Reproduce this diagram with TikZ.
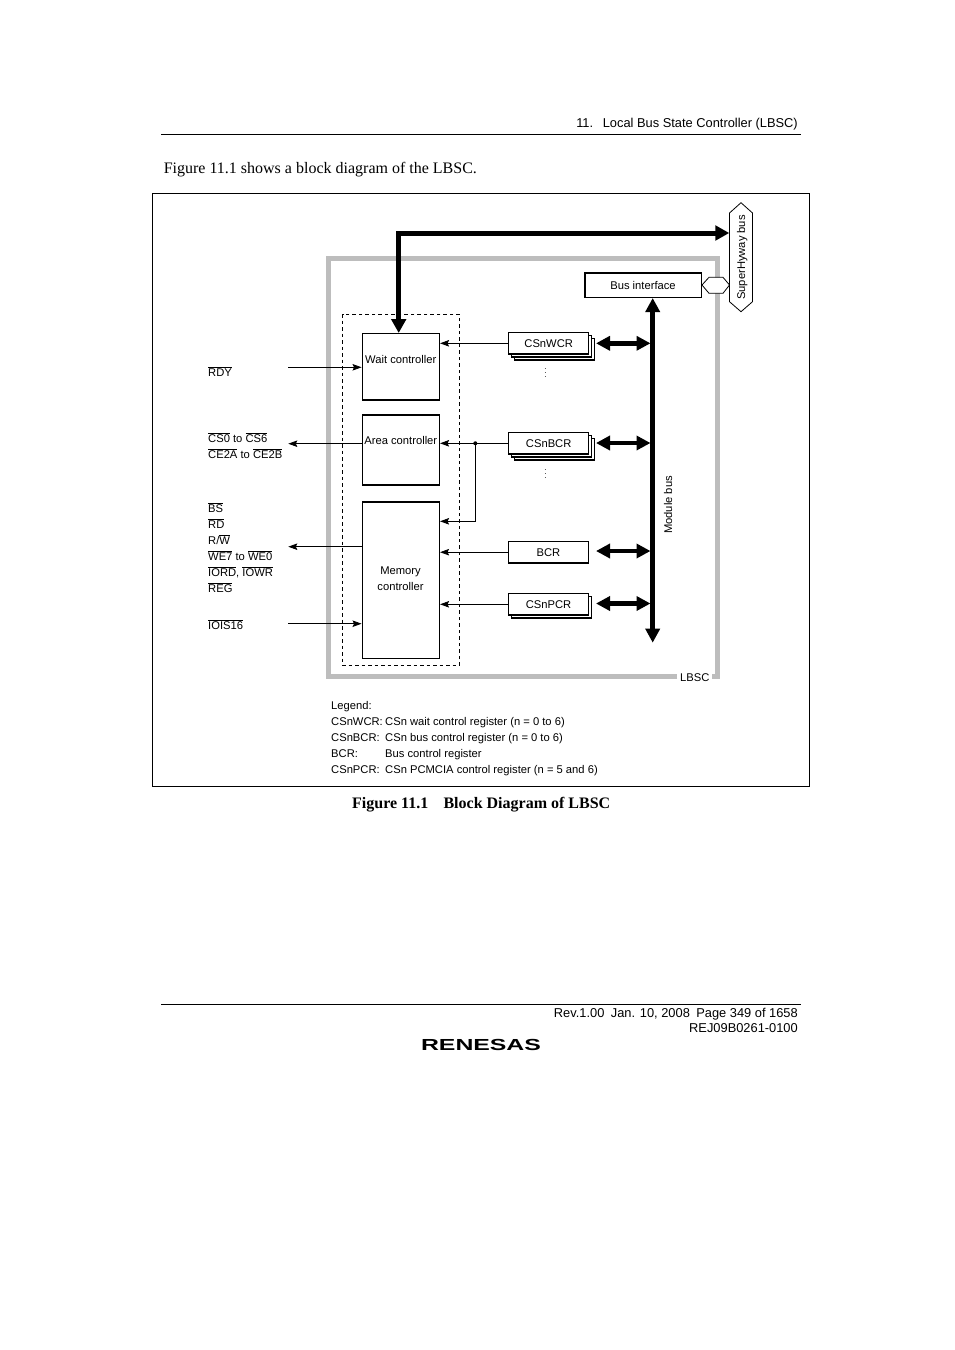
\documentclass[tikz,border=0pt]{standalone}
\usepackage{fontspec}
\setmainfont{Liberation Sans}
\newfontfamily\serifbody{Liberation Serif}
\usetikzlibrary{arrows.meta}
\newcommand{\ol}[1]{$\overline{\hbox{#1}}$}
\definecolor{lbscgray}{HTML}{BDBDBD}
\tikzset{
  txt/.style={inner sep=0pt,font=\fontsize{11.2}{13}\selectfont,text height=9pt,text depth=1pt},
  ltxt/.style={txt,anchor=west},
  rtxt/.style={txt,anchor=east},
  ctrl/.style={draw=black,line width=1.5pt,inner sep=0pt,fill=white},
  regbox/.style={draw=black,line width=1.5pt,fill=white,inner sep=0pt,minimum width=80pt,minimum height=21.5pt,font=\fontsize{11.2}{13}\selectfont},
  thin arrow/.style={line width=0.8pt,-{Stealth[length=9pt,width=6.5pt,inset=1.5pt]}},
  bus arrow/.style={line width=4.6pt,{Triangle[length=14pt,width=14pt]}-{Triangle[length=14pt,width=14pt]}},
  hex/.style={draw=black,line width=0.8pt,fill=white,line join=miter},
  grayline/.style={draw=lbscgray,line width=4.6pt},
}
\begin{document}
\begin{tikzpicture}[x=1pt,y=-1pt]
\useasboundingbox (0,0) rectangle (954,1350);
\fill[white] (0,0) rectangle (954,1350);
% page furniture
\coordinate (hl) at (161,134.5); \coordinate (hr) at (801,134.5);
\draw[line width=0.9pt] (hl) -- (hr);
\node[rtxt,font=\fontsize{12.85}{14}\selectfont] (header) at (798,123.3) {11.\hspace{0.75em}Local Bus State Controller (LBSC)};
\node[inner sep=0pt,anchor=west,font=\serifbody\fontsize{16}{18}\selectfont] (intro) at (163.6,169.3) {Figure 11.1 shows a block diagram of the LBSC.};
\node[draw=black,line width=0.8pt,inner sep=0pt,outer sep=0pt,minimum width=657.3pt,minimum height=593.5pt,anchor=north west] (frame) at (152.2,193.2) {};
\node[inner sep=0pt,anchor=west,font=\serifbody\bfseries\fontsize{16}{18}\selectfont] (caption) at (352,804.3) {Figure 11.1\hspace{0.95em}Block Diagram of LBSC};
\coordinate (fl) at (161,1004); \coordinate (fr) at (801,1004);
\draw[line width=0.9pt] (fl) -- (fr);
\node[rtxt,font=\fontsize{12.85}{14}\selectfont] (rev) at (798,1013.5) {Rev.1.00\hspace{0.5em}Jan. 10, 2008\hspace{0.5em}Page 349 of 1658};
\node[rtxt,font=\fontsize{12.85}{14}\selectfont] (rej) at (798,1028.5) {REJ09B0261-0100};
\node[inner sep=0pt,anchor=center,font=\bfseries\fontsize{16}{18}\selectfont] (logo) at (481,1044.5) {\scalebox{1.55}[1]{RENESAS}};
% LBSC outline
\coordinate (g1) at (677,676.5); \coordinate (g2) at (328.5,258.5); \coordinate (g3) at (717.5,258.5); \coordinate (g4) at (717.5,676.5); \coordinate (g5) at (712,676.5); \coordinate (g6) at (328.5,676.5);
\draw[grayline,line join=miter] (g1) -- (g6) -- (g2) -- (g3) -- (g4) -- (g5);
\node[ltxt] (lbsc) at (680,677) {LBSC};
% dashed block
\draw[dashed,line width=1pt,dash pattern=on 3.5pt off 3pt] (342.7,314) rectangle (459.3,665.5);
% controllers
\node[ctrl,minimum width=77pt,minimum height=66.3pt] (wait) at (400.8,366.8) {};
\node[ctrl,minimum width=77pt,minimum height=70pt] (area) at (400.8,450) {};
\node[ctrl,minimum width=77pt,minimum height=156.5pt] (mem) at (400.8,580) {};
\node[txt] (waitt) at (400.8,359) {Wait controller};
\node[txt] (areat) at (400.8,440) {Area controller};
\node[txt] (memt1) at (400.5,570) {Memory};
\node[txt] (memt2) at (400.5,586) {controller};
% registers
\node[regbox] (w3) at (554.7,349.3) {};
\node[regbox] (w2) at (551.7,346.3) {};
\node[regbox] (wcr) at (548.7,343.3) {CSnWCR};
\node[regbox] (b3) at (554.7,449.3) {};
\node[regbox] (b2) at (551.7,446.3) {};
\node[regbox] (bcrn) at (548.7,443.3) {CSnBCR};
\node[regbox] (bcr) at (548.5,552.2) {BCR};
\node[regbox] (p2) at (551.5,607.3) {};
\node[regbox] (pcr) at (548.5,604.3) {CSnPCR};
\node[inner sep=0pt,font=\fontsize{8}{8}\selectfont] (d1) at (545.5,370) {$\vdots$};
\node[inner sep=0pt,font=\fontsize{8}{8}\selectfont] (d2) at (545.5,471) {$\vdots$};
% bus interface
\node[draw=black,line width=1.5pt,fill=white,inner sep=0pt,minimum width=116.5pt,minimum height=24.5pt,font=\fontsize{11.2}{13}\selectfont] (bif) at (643,285) {Bus interface};
% hexagons
\draw[hex] (702,285) -- (709,277.3) -- (723,277.3) -- (729.5,285) -- (723,293.3) -- (709,293.3) -- cycle;
\draw[hex] (741,202.7) -- (752.5,213) -- (752.5,301.7) -- (741,311.7) -- (729.5,301.7) -- (729.5,213) -- cycle;
\node[txt,rotate=90] (sh) at (741,257.5) {SuperHyway bus};
% thick bus to SuperHyway
\coordinate (shin) at (729.3,233);
\coordinate (wtop) at (398.7,333);
\draw[line width=5pt,{Triangle[length=14pt,width=14.5pt]}-{Triangle[length=14pt,width=14.5pt]},line join=miter] (wtop) |- (shin);
% module bus
\coordinate (mbot) at (652.7,642.7);
\draw[bus arrow,line width=5pt] (bif.south -| mbot) -- (mbot);
\node[txt,rotate=90] (mb) at (668,505) {Module bus};
% register to module bus
\coordinate (m1) at (650.5,343.3); \coordinate (m2) at (650.5,443); \coordinate (m3) at (650.5,551); \coordinate (m4) at (650.5,603.5);
\coordinate (s1) at (596,343.3); \coordinate (s2) at (596,443); \coordinate (s3) at (596,551); \coordinate (s4) at (596,603.5);
\draw[bus arrow] (s1) -- (m1);
\draw[bus arrow] (s2) -- (m2);
\draw[bus arrow] (s3) -- (m3);
\draw[bus arrow] (s4) -- (m4);
% register to controller
\draw[thin arrow] (wcr.west) -- (wcr.west -| wait.east);
\draw[thin arrow] (bcrn.west) -- (bcrn.west -| area.east);
\draw[thin arrow] (bcr.west) -- (bcr.west -| mem.east);
\draw[thin arrow] (pcr.west) -- (pcr.west -| mem.east);
\coordinate (dot) at (475.3,443.3);
\coordinate (dotb) at (475.3,521.3);
\fill (dot) circle (2pt);
\draw[thin arrow] (dot) -- (dotb) -- (dotb -| mem.east);
% external signals
\coordinate (rdy) at (288,367.3);
\coordinate (cso) at (288.3,443.7);
\coordinate (bso) at (288.3,546.7);
\coordinate (ioi) at (288,623.7);
\draw[thin arrow] (rdy) -- (rdy -| wait.west);
\draw[thin arrow] (cso -| area.west) -- (cso);
\draw[thin arrow] (bso -| mem.west) -- (bso);
\draw[thin arrow] (ioi) -- (ioi -| mem.west);
% signal labels
\node[ltxt] (l1) at (208,372) {\ol{RDY}};
\node[ltxt] (l2) at (208,438) {\ol{CS0} to \ol{CS6}};
\node[ltxt] (l3) at (208,454) {\ol{CE2A} to \ol{CE2B}};
\node[ltxt] (l4) at (208,508) {\ol{BS}};
\node[ltxt] (l5) at (208,524) {\ol{RD}};
\node[ltxt] (l6) at (208,540) {R/\ol{W}};
\node[ltxt] (l7) at (208,556) {\ol{WE7} to \ol{WE0}};
\node[ltxt] (l8) at (208,572) {\ol{IORD}, \ol{IOWR}};
\node[ltxt] (l9) at (208,588) {\ol{REG}};
\node[ltxt] (l10) at (208,625) {\ol{IOIS16}};
% legend
\node[ltxt] (lg0) at (331,705) {Legend:};
\node[ltxt] (lg1) at (331,721) {CSnWCR:};
\node[ltxt] (lg2) at (331,737) {CSnBCR:};
\node[ltxt] (lg3) at (331,753) {BCR:};
\node[ltxt] (lg4) at (331,769) {CSnPCR:};
\node[ltxt] (ld1) at (385,721) {CSn wait control register (n = 0 to 6)};
\node[ltxt] (ld2) at (385,737) {CSn bus control register (n = 0 to 6)};
\node[ltxt] (ld3) at (385,753) {Bus control register};
\node[ltxt] (ld4) at (385,769) {CSn PCMCIA control register (n = 5 and 6)};
\end{tikzpicture}
\end{document}
